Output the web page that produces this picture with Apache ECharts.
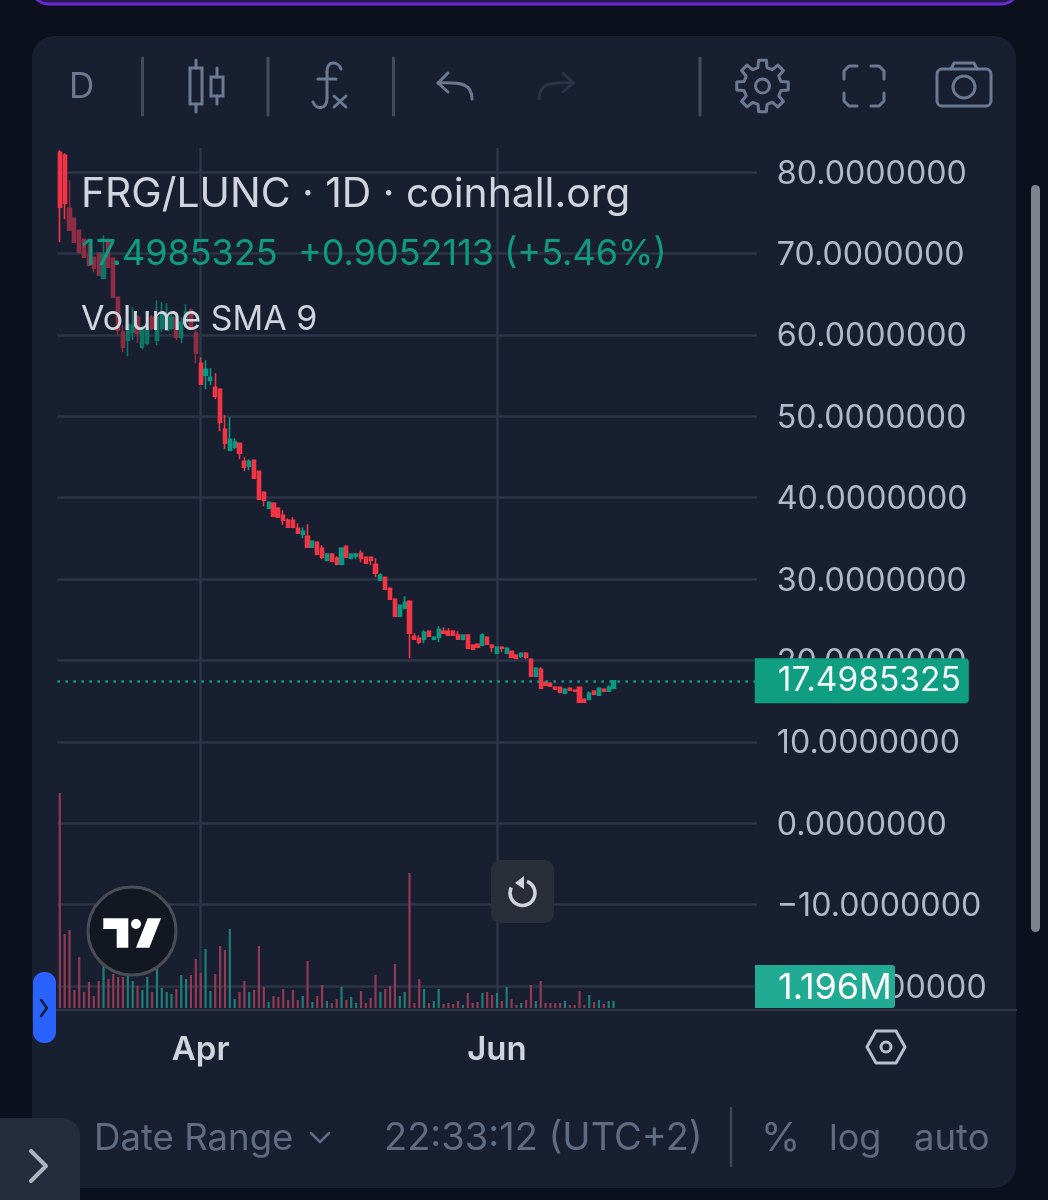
<!DOCTYPE html>
<html>
<head>
<meta charset="utf-8">
<style>
  html, body { margin: 0; padding: 0; background: #0b101c; }
  #chart { width: 1048px; height: 1200px; }
</style>
<script src="https://cdn.jsdelivr.net/npm/echarts@6/dist/echarts.min.js"></script>
</head>
<body>
<div id="chart"></div>
<script>
// daily candles
const firstDay = '2022-03-03'
const slotCount = 144

const opens = [82.43,82.06,75.55,74.32,72.85,71.74,69.78,69.53,70.02,66.95,71.62,69.41,64.62,60.32,59.34,60.32,62.16,58.48,58.97,62.16,59.34,60.81,60.57,60.81,62.16,59.71,61.55,63.02,60.20,
  56.51,55.04,54.42,53.56,53.32,48.40,45.82,46.19,46.68,44.47,43.86,44.59,43.24,40.66,38.70,39.31,38.70,37.84,37.22,37.22,36.24,35.50,35.26,33.91,34.52,33.78,32.31,33.05,32.56,31.82,34.03,
  32.56,32.80,33.17,32.68,32.68,31.82,29.85,30.22,28.87,27.52,25.43,26.41,27.27,22.97,22.73,22.60,23.59,22.60,22.85,23.59,23.59,23.59,23.10,22.60,23.10,21.87,21.99,21.87,22.85,21.87,
  20.88,21.62,20.88,21.13,20.64,20.52,20.88,20.15,18.06,18.92,17.32,17.20,16.71,16.71,15.97,16.58,16.34,16.71,15.23,15.23,16.22,15.72,16.46,16.22,16.59]
const closes = [75.68,76.17,72.85,71.38,70.15,69.53,68.55,68.18,67.32,70.02,68.30,64.62,60.57,58.48,61.30,61.18,60.20,60.57,60.93,60.81,62.16,62.65,62.41,62.16,59.71,61.55,62.78,60.81,57.74,
  53.93,55.77,54.79,52.46,49.26,46.68,47.17,46.81,45.45,43.73,44.47,42.38,39.80,39.68,39.43,37.71,37.59,37.22,36.36,36.36,35.63,35.87,33.91,34.64,33.05,32.68,33.05,32.19,31.82,33.78,32.68,
  33.05,33.05,32.56,31.94,32.31,30.71,30.47,28.75,27.52,25.43,26.78,27.15,23.34,22.60,22.24,23.46,22.97,22.85,23.83,23.34,23.10,23.10,22.60,23.10,21.50,21.38,21.62,23.10,21.99,21.62,
  21.62,21.50,21.50,20.39,20.27,20.88,20.39,18.06,19.04,16.58,16.95,16.83,16.46,16.09,16.46,16.34,16.22,14.86,14.86,15.97,15.85,16.58,16.22,16.71,17.4985]
const lows = [71.38,74.20,72.85,71.38,70.02,69.53,68.43,67.69,67.20,66.83,68.30,64.50,59.95,57.86,57.37,59.34,58.97,58.23,58.72,60.57,58.72,60.32,60.44,60.57,59.34,58.97,60.93,60.57,56.51,
  53.93,53.32,53.81,52.09,48.16,45.95,45.82,45.95,44.72,43.24,43.37,42.38,39.80,38.94,38.57,37.71,37.59,36.61,36.36,36.24,35.63,35.01,33.91,33.91,32.92,32.43,32.19,32.06,31.70,31.70,32.68,
  32.43,32.43,32.06,31.94,31.70,30.22,29.73,28.75,27.52,25.43,25.43,26.29,20.27,22.60,21.99,22.11,22.85,22.48,22.24,23.34,23.10,23.10,22.60,22.48,21.38,21.25,21.62,21.74,21.87,21.01,
  20.88,21.01,20.76,20.27,20.15,20.27,20.15,18.06,18.06,16.58,16.95,16.83,16.46,15.97,15.97,16.34,16.22,14.86,14.86,15.11,15.72,15.72,16.09,16.22,16.46]
const highs = [82.68,82.31,78.99,74.32,72.85,71.74,71.25,69.53,70.15,72.24,71.87,69.53,64.62,61.18,61.30,63.39,62.41,61.18,62.78,62.41,64.25,64.00,63.88,62.78,62.41,62.16,63.76,63.27,60.57,
  57.25,56.88,55.90,55.28,53.44,50.12,49.88,47.30,46.68,44.96,44.72,44.72,43.24,40.79,39.56,39.43,38.82,38.45,37.47,37.59,36.86,36.36,36.73,34.64,34.64,34.15,33.05,33.05,32.80,33.91,34.03,
  33.17,33.17,33.54,32.68,32.68,32.56,30.71,30.22,28.99,27.64,26.78,27.89,27.40,23.34,23.10,23.71,23.71,22.97,24.20,24.08,23.96,23.71,23.59,23.10,23.22,21.99,22.11,23.34,22.97,21.99,
  21.74,21.74,21.62,21.13,20.76,21.01,21.01,20.27,19.16,19.16,17.44,17.32,16.83,16.71,16.58,16.71,16.34,16.71,15.36,16.22,16.22,16.71,16.58,16.95,17.57]
// volume, in millions
const volumes = [35.83,12.33,13.00,3.00,8.50,2.67,4.33,2.00,4.50,8.67,4.83,5.67,5.17,5.17,5.33,4.50,3.67,3.00,5.17,2.67,6.67,3.33,2.67,2.33,3.17,5.50,4.83,5.50,8.17,
  5.83,9.83,2.83,5.67,10.33,9.67,13.17,1.50,2.67,4.50,2.67,3.00,10.33,3.50,1.00,2.00,1.83,3.17,1.33,3.00,1.33,2.00,7.83,1.00,2.00,3.83,1.17,0.83,1.50,3.50,1.33,
  1.83,0.83,2.83,0.83,1.67,5.50,2.67,3.17,3.67,7.33,2.00,2.67,22.50,0.83,4.83,3.17,0.83,1.17,3.17,0.67,0.83,0.67,1.17,0.50,2.50,0.83,1.00,2.50,2.67,2.17,
  2.50,1.17,3.50,1.50,0.50,0.83,1.33,3.83,1.17,4.50,0.83,0.83,0.83,0.83,1.17,0.50,0.50,2.83,0.50,2.17,1.00,1.33,0.67,1.17,1.196]
const priceTicks = { min: -20, max: 80, interval: 10 }
const volumeMax = 143.33
const monthTicks = { 29: 'Apr', 90: 'Jun' }
const lastPrice = '17.4985325'
const lastChange = '+0.9052113 (+5.46%)'
const lastVolume = '1.196M'

const GREEN = '#089981', RED = '#f23645'
const DIM_GREEN = '#0f7566', DIM_RED = '#8e2d43'
const VOL_GREEN = '#1e7f78', VOL_RED = '#923a54'
const GRID = '#2d3648', UI = '#6b7a92', UI_TEXT = '#5f6c83'
const FONT = 'Inter'

// candles 2..28 look faded in the source
const isDim = (i) => i >= 2 && i <= 28

const categories = []
for (let i = 0; i < slotCount; i++) {
  categories.push(new Date(Date.parse(firstDay) + i * 864e5).toISOString().slice(0, 10))
}

const candle = (i) => [opens[i], closes[i], lows[i], highs[i]]
const blank = ['-', '-', '-', '-']
const brightCandles = opens.map((o, i) => (isDim(i) ? blank.slice() : candle(i)))
const dimCandles = opens.map((o, i) => (isDim(i) ? candle(i) : blank.slice()))
const volumeData = volumes.map((v, i) => ({
  value: v,
  itemStyle: { color: closes[i] >= opens[i] ? VOL_GREEN : VOL_RED }
}))

// helpers for the page chrome around the chart
const rect = (x, y, w, h, fill, r, z = 100, extra = {}) => ({
  type: 'rect', z, shape: { x, y, width: w, height: h, r: r || 0 }, style: { fill, ...extra }
})
const line = (x1, y1, x2, y2, stroke = UI, lineWidth = 3, z = 100) => ({
  type: 'line', z, shape: { x1, y1, x2, y2 }, style: { stroke, lineWidth, lineCap: 'round' }
})
const poly = (points, stroke = UI, lineWidth = 3, z = 100) => ({
  type: 'polyline', z, shape: { points }, style: { stroke, lineWidth, fill: null, lineCap: 'round', lineJoin: 'round' }
})
const curve = (x1, y1, cpx1, cpy1, cpx2, cpy2, x2, y2, stroke = UI, lineWidth = 3) => ({
  type: 'bezierCurve', z: 100, shape: { x1, y1, cpx1, cpy1, cpx2, cpy2, x2, y2 },
  style: { stroke, lineWidth, fill: null, lineCap: 'round' }
})
const ring = (cx, cy, r, stroke = UI, lineWidth = 3, fill = null, z = 100) => ({
  type: 'circle', z, shape: { cx, cy, r }, style: { stroke, lineWidth, fill }
})
const text = (x, y, str, size, fill, weight = 400, z = 100) => ({
  type: 'text', z, x, y,
  style: { text: str, fontFamily: FONT, fontSize: size, fontWeight: weight, fill, verticalAlign: 'middle' }
})

const gearPoints = () => {
  const pts = []
  for (let t = 0; t < 8; t++) {
    const a = t * Math.PI / 4 - Math.PI / 2
    const p = (r, da) => [762.5 + r * Math.cos(a + da), 86 + r * Math.sin(a + da)]
    pts.push(p(26, -0.15), p(26, 0.15), p(19, 0.24), p(19, 0.54))
  }
  pts.push(pts[0])
  return pts
}

const chrome = [
  // background panels
  rect(32, -30, 986, 34, '#241b4a', 16, -2, { stroke: '#6a2bd6', lineWidth: 3 }),
  rect(32, 36, 984, 1152, '#171f31', 22, -1),
  // scrollbar
  rect(1031, 185, 9, 747, '#7d828c', 4.5, 1),
  // toolbar
  text(69, 87, 'D', 35, UI),
  line(142.5, 58, 142.5, 115, '#434b5c'),
  line(268, 58, 268, 115, '#434b5c'),
  line(393.5, 58, 393.5, 115, '#434b5c'),
  line(700, 58, 700, 115, '#434b5c'),
  { type: 'rect', z: 100, shape: { x: 190, y: 68, width: 12, height: 36 }, style: { stroke: UI, lineWidth: 3, fill: null } },
  line(196, 60, 196, 68), line(196, 104, 196, 112),
  { type: 'rect', z: 100, shape: { x: 211, y: 77, width: 12, height: 19 }, style: { stroke: UI, lineWidth: 3, fill: null } },
  line(217, 68, 217, 77), line(217, 96, 217, 104),
  curve(341, 69, 338, 61, 327, 60, 327, 72), line(327, 72, 327, 98),
  curve(327, 98, 327, 110, 316, 110, 313, 102),
  line(318, 79, 336, 79), line(334, 96, 346, 107), line(346, 96, 334, 107),
  poly([[448, 73], [438, 83], [448, 92]]),
  curve(438, 83, 462, 82, 472, 84, 472, 99),
  poly([[563, 73], [573, 83], [563, 92]], '#2a3446'),
  curve(573, 83, 549, 82, 539, 84, 539, 99, '#2a3446'),
  poly(gearPoints()), ring(762.5, 86, 7),
  poly([[857, 66], [849, 66], [844, 71], [844, 79]]),
  poly([[871, 66], [879, 66], [884, 71], [884, 79]]),
  poly([[857, 106], [849, 106], [844, 101], [844, 93]]),
  poly([[871, 106], [879, 106], [884, 101], [884, 93]]),
  { type: 'rect', z: 100, shape: { x: 937, y: 69, width: 54, height: 37, r: 5 }, style: { stroke: UI, lineWidth: 3, fill: null } },
  poly([[951, 69], [954, 63], [974, 63], [977, 69]]),
  ring(964, 87, 11),
  // legend
  text(81, 195, 'FRG/LUNC · 1D · coinhall.org', 40.8, '#d1d4dc', 400, 50),
  text(81, 254, lastPrice + '  ' + lastChange, 36, '#0e9b80', 400, 50),
  text(81, 320, 'Volume SMA 9', 34, '#d1d4dc', 400, 50),
  // volume tag, pinned to the bottom of the pane
  rect(755, 965, 140, 43, '#22ab94', [0, 3, 3, 0], 60),
  text(778, 988, lastVolume, 36, '#ffffff', 400, 61),
  // pane separator
  line(56, 1010, 1016, 1010, GRID, 2.5, 1),
  // blue handle
  rect(33, 972, 23, 71, '#2962ff', 11),
  poly([[41, 1000], [47, 1008], [41, 1016]], '#131c2e', 2.5),
  // tradingview badge
  ring(132, 931, 44, '#4a4d55', 3, '#131722'),
  { type: 'polygon', z: 101, shape: { points: [[103.3, 918.3], [128.3, 918.3], [128.3, 947.7], [116.7, 947.7], [116.7, 929], [103.3, 929]] }, style: { fill: '#ffffff' } },
  { type: 'circle', z: 101, shape: { cx: 136, cy: 924, r: 5 }, style: { fill: '#ffffff' } },
  { type: 'polygon', z: 101, shape: { points: [[147.7, 918.3], [161, 918.3], [149.3, 947.7], [136, 947.7]] }, style: { fill: '#ffffff' } },
  // reset button
  rect(491, 860, 63, 63, '#2a2e39', 9),
  { type: 'arc', z: 101, shape: { cx: 522.5, cy: 893, r: 12.5, startAngle: -1.2, endAngle: 3.6, clockwise: true }, style: { stroke: '#d1d4dc', lineWidth: 3.5, fill: null } },
  { type: 'polygon', z: 101, shape: { points: [[524, 876], [524, 889], [515, 883]] }, style: { fill: '#d1d4dc' } },
  // settings hexagon under the price axis
  poly([[876, 1031], [896, 1031], [905, 1047], [896, 1063], [876, 1063], [867, 1047], [876, 1031]], '#b8c0cc', 3),
  ring(886, 1047, 5, '#b8c0cc', 3),
  // bottom bar
  text(94, 1139, 'Date Range', 36.6, UI_TEXT),
  poly([[311, 1133], [320, 1142], [329, 1133]], UI_TEXT, 2.5),
  text(384, 1139, '22:33:12 (UTC+2)', 38, UI_TEXT),
  line(731, 1108, 731, 1166, '#3d4556', 2.5),
  text(761, 1139, '%', 40, UI_TEXT),
  text(829, 1139, 'log', 36, UI_TEXT),
  text(914, 1139, 'auto', 36.5, UI_TEXT),
  // collapse tab, bottom left
  rect(0, 1118, 80, 100, '#242d3d', [0, 18, 0, 0]),
  poly([[31, 1151], [46, 1166], [31, 1181]], '#aeb4c0', 4)
]

const candleSeries = (data, up, down, extra) => ({
  type: 'candlestick',
  xAxisIndex: 0,
  yAxisIndex: 0,
  barWidth: 3.6,
  clip: false,
  z: 3,
  itemStyle: { color: up, color0: down, borderColor: up, borderColor0: down, borderWidth: 1.6 },
  data,
  ...extra
})

const chart = echarts.init(document.getElementById('chart'))
chart.setOption({
  animation: false,
  backgroundColor: 'transparent',
  grid: [
    { left: 57.4, width: 699.4, top: 172, height: 814 },
    { left: 57.4, width: 699.4, top: 148, height: 860 },
    // price labels sit 2px under their grid lines, so they get their own axis
    { left: 57.4, width: 699.4, top: 174, height: 814 }
  ],
  xAxis: [
    { type: 'category', gridIndex: 0, data: categories, show: false },
    {
      type: 'category',
      gridIndex: 1,
      data: categories,
      axisLine: { show: false },
      axisTick: { show: false },
      splitLine: {
        show: true,
        alignWithLabel: true,
        interval: (i) => monthTicks[i] !== undefined,
        lineStyle: { color: GRID, width: 2.5 }
      },
      axisLabel: {
        interval: (i) => monthTicks[i] !== undefined,
        formatter: (v, i) => monthTicks[i] || '',
        margin: 26,
        fontFamily: FONT,
        fontSize: 33,
        fontWeight: 600,
        color: '#d1d4dc'
      }
    },
    { type: 'category', gridIndex: 2, data: categories, show: false }
  ],
  yAxis: [
    {
      type: 'value',
      gridIndex: 0,
      min: priceTicks.min,
      max: priceTicks.max,
      interval: priceTicks.interval,
      axisLine: { show: false },
      axisTick: { show: false },
      axisLabel: { show: false },
      splitLine: { lineStyle: { color: GRID, width: 2.5 } }
    },
    { type: 'value', gridIndex: 1, min: 0, max: volumeMax, show: false, splitLine: { show: false } },
    {
      type: 'value',
      gridIndex: 2,
      position: 'right',
      min: priceTicks.min,
      max: priceTicks.max,
      interval: priceTicks.interval,
      axisLine: { show: false },
      axisTick: { show: false },
      splitLine: { show: false },
      axisLabel: {
        margin: 20,
        fontFamily: FONT,
        fontSize: 32.2,
        color: '#b2b9c6',
        formatter: (v) => v.toFixed(7).replace('-', '\u2212')
      }
    }
  ],
  series: [
    {
      type: 'bar',
      xAxisIndex: 1,
      yAxisIndex: 1,
      barWidth: 2.2,
      z: 1,
      data: volumeData
    },
    candleSeries(dimCandles, DIM_GREEN, DIM_RED),
    candleSeries(brightCandles, GREEN, RED, {
      markLine: {
        silent: true,
        symbol: 'none',
        animation: false,
        lineStyle: { color: '#0e9b80', type: [2.5, 5.5], width: 2.5 },
        label: {
          position: 'end',
          distance: -2,
          formatter: lastPrice,
          fontFamily: FONT,
          fontSize: 33.5,
          color: '#eef8f6',
          backgroundColor: '#109e82',
          borderRadius: [0, 4, 4, 0],
          align: 'left',
          verticalAlign: 'middle',
          padding: [7, 8, 4, 23]
        },
        data: [{ yAxis: +lastPrice }]
      }
    })
  ],
  graphic: chrome
})
</script>
</body>
</html>
